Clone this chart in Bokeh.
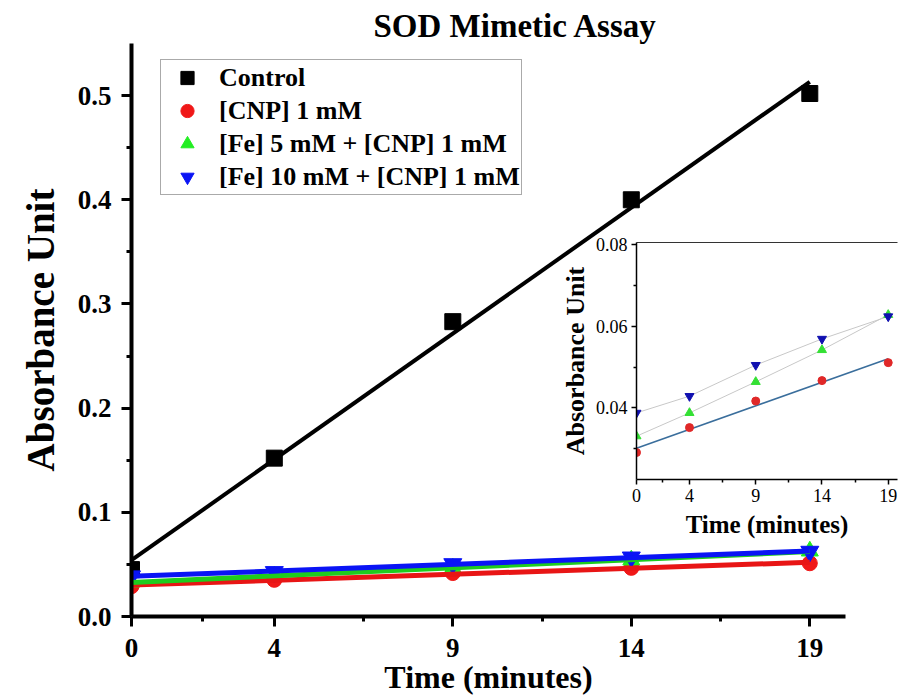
import numpy as np
from bokeh.plotting import figure
from bokeh.models import FixedTicker, Legend, LegendItem, LinearAxis, Range1d
from bokeh.embed import file_html
from bokeh.resources import INLINE

# ---------------- data ----------------
time_min = [0, 4, 9, 14, 19]
control = [0.045, 0.152, 0.283, 0.400, 0.502]
cnp_1mM = [0.0291, 0.0352, 0.0417, 0.0467, 0.0511]
fe5_cnp1 = [0.0331, 0.0388, 0.0464, 0.0542, 0.0628]
fe10_cnp1 = [0.0388, 0.0429, 0.0505, 0.0569, 0.0624]

series_names = ["Control", "[CNP] 1 mM", "[Fe] 5 mM + [CNP] 1 mM", "[Fe] 10 mM + [CNP] 1 mM"]

x_ticks = [0, 4, 9, 14, 19]
x_minor = [2, 6.5, 11.5, 16.5]
y_ticks = [0.0, 0.1, 0.2, 0.3, 0.4, 0.5]
y_tick_labels = ["0.0", "0.1", "0.2", "0.3", "0.4", "0.5"]
y_minor = [0.05, 0.15, 0.25, 0.35, 0.45]

inset_y_ticks = [0.04, 0.06, 0.08]
inset_y_tick_labels = ["0.04", "0.06", "0.08"]
inset_y_minor = [0.03, 0.05, 0.07]

FONT = "Liberation Serif"

def fit(xs, ys):
    k, b = np.polyfit(np.array(xs, float), np.array(ys, float), 1)
    xx = [min(xs), max(xs)]
    return xx, [k * v + b for v in xx]

# ---------------- main figure ----------------
p = figure(width=906, height=697, x_range=Range1d(0, 20), y_range=Range1d(0, 0.55),
           output_backend="svg", toolbar_location=None,
           min_border_left=131, min_border_right=61, min_border_top=43, min_border_bottom=80)
p.grid.visible = False
p.outline_line_color = None
p.background_fill_color = "white"

p.title.text = "SOD Mimetic Assay"
p.title.text_font = FONT
p.title.text_font_style = "bold"
p.title.text_font_size = "33px"
p.title.align = "left"
p.title.offset = 242
p.title.standoff = 0
p.title.text_color = "black"

for ax in (p.xaxis[0], p.yaxis[0]):
    ax.axis_line_width = 4
    ax.major_tick_line_width = 3
    ax.minor_tick_line_width = 3
    ax.major_tick_out = 10
    ax.major_tick_in = 0
    ax.minor_tick_out = 5
    ax.minor_tick_in = 0
    ax.major_label_text_font = FONT
    ax.major_label_text_font_style = "bold"
    ax.major_label_text_font_size = "27px"
    ax.major_label_text_color = "black"
    ax.axis_label_text_font = FONT
    ax.axis_label_text_font_style = "bold"
    ax.axis_label_text_color = "black"

p.xaxis[0].ticker = FixedTicker(ticks=x_ticks, minor_ticks=x_minor)
p.yaxis[0].ticker = FixedTicker(ticks=y_ticks, minor_ticks=y_minor)
p.yaxis[0].major_label_overrides = {t: l for t, l in zip(y_ticks, y_tick_labels)}
p.xaxis[0].axis_label = "Time (minutes)"
p.xaxis[0].axis_label_text_font_size = "32px"
p.xaxis[0].major_label_standoff = 12
p.xaxis[0].axis_label_standoff = -1
p.yaxis[0].axis_label = "Absorbance Unit"
p.yaxis[0].axis_label_text_font_size = "39px"
p.yaxis[0].major_label_standoff = 10
p.yaxis[0].axis_label_standoff = 13

r_ctrl = p.scatter(time_min, control, marker="square", size=16, color="black")
xx, yy = fit(time_min, control)
p.line(xx, yy, line_color="black", line_width=4)

r_cnp = p.scatter(time_min, cnp_1mM, marker="circle", size=15, color="#f01818")
r_fe5 = p.scatter(time_min, fe5_cnp1, marker="triangle", size=17, color="#22ee22")
r_fe10 = p.scatter(time_min, fe10_cnp1, marker="inverted_triangle", size=18, color="#0a14f5")
for ys, c in ((cnp_1mM, "#e81515"), (fe5_cnp1, "#1ecc1e"), (fe10_cnp1, "#0a14f5")):
    xx, yy = fit(time_min, ys)
    p.line(xx, yy, line_color=c, line_width=5)

legend = Legend(items=[LegendItem(label=n, renderers=[r]) for n, r in
                       zip(series_names, [r_ctrl, r_cnp, r_fe5, r_fe10])],
                location=(29, 421), margin=0, padding=1, spacing=0,
                glyph_width=50, glyph_height=33, label_standoff=7,
                label_text_font=FONT, label_text_font_style="bold",
                label_text_font_size="26px", label_text_color="black",
                border_line_color="#555555", border_line_width=1,
                background_fill_color="white", background_fill_alpha=1)
p.add_layout(legend)

# ---------------- inset ----------------
inset = figure(width=341, height=308, x_range=Range1d(0, 19.7), y_range=Range1d(0.0225, 0.0805),
               output_backend="svg", toolbar_location=None,
               min_border_left=77, min_border_right=1, min_border_top=10, min_border_bottom=55,
               styles={"position": "absolute", "left": "557px", "top": "232px"})
inset.grid.visible = False
inset.outline_line_color = None
inset.background_fill_color = "white"
inset.border_fill_alpha = 0

for ax in (inset.xaxis[0], inset.yaxis[0]):
    ax.axis_line_width = 1.5
    ax.major_tick_line_width = 1.5
    ax.minor_tick_line_width = 1.5
    ax.major_tick_out = 5
    ax.major_tick_in = 0
    ax.minor_tick_out = 3
    ax.minor_tick_in = 0
    ax.major_label_text_font = FONT
    ax.major_label_text_font_size = "18px"
    ax.major_label_text_color = "black"
    ax.major_label_standoff = 4
    ax.axis_label_text_font = FONT
    ax.axis_label_text_font_style = "bold"
    ax.axis_label_text_font_size = "25px"
    ax.axis_label_text_color = "black"
    ax.axis_label_standoff = 6

inset.xaxis[0].ticker = FixedTicker(ticks=x_ticks, minor_ticks=x_minor)
inset.yaxis[0].ticker = FixedTicker(ticks=inset_y_ticks, minor_ticks=inset_y_minor)
inset.yaxis[0].major_label_overrides = {t: l for t, l in zip(inset_y_ticks, inset_y_tick_labels)}
inset.xaxis[0].axis_label = "Time (minutes)"
inset.yaxis[0].axis_label = "Absorbance Unit"
inset.yaxis[0].axis_label_text_font_size = "26px"
inset.yaxis[0].axis_label_standoff = 3

top_axis = LinearAxis(ticker=FixedTicker(ticks=[]), major_label_text_font_size="0px",
                      axis_line_width=1, axis_line_color="#333333",
                      major_tick_out=0, minor_tick_out=0)
inset.add_layout(top_axis, "above")

inset.line(time_min, fe10_cnp1, line_color="#c8c8c8", line_width=1)
inset.line(time_min, fe5_cnp1, line_color="#c8c8c8", line_width=1)
xx, yy = fit(time_min, cnp_1mM)
inset.line(xx, yy, line_color="#3a6e9c", line_width=1.5)
inset.scatter(time_min, cnp_1mM, marker="circle", size=8, color="#e02828")
inset.scatter(time_min, fe5_cnp1, marker="triangle", size=9, color="#33e033")
inset.scatter(time_min, fe10_cnp1, marker="inverted_triangle", size=9, color="#1010b0")

open("out.html", "w").write(file_html([p, inset], INLINE))
